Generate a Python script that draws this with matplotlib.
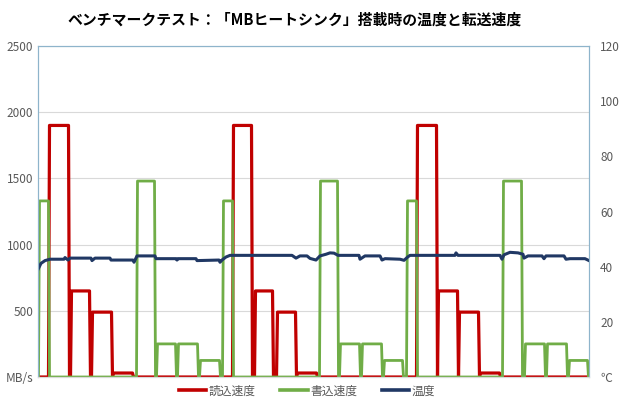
import matplotlib
matplotlib.use("Agg")
import matplotlib.pyplot as plt
from matplotlib.lines import Line2D

plt.rcParams['font.family'] = ['Noto Sans CJK JP', 'DejaVu Sans']

title = "ベンチマークテスト：「MBヒートシンク」搭載時の温度と転送速度"
series_names = ["読込速度", "書込速度", "温度"]

# (start, end, MB/s) plateaus, time in seconds from start of log
read_segs = [
    (11, 31, 1900), (33, 52, 650), (54, 74, 490), (75, 95, 30),
    (195, 214, 1900), (217, 235, 650), (239, 258, 490), (259, 279, 30),
    (379, 399, 1900), (400, 420, 650), (421, 441, 490), (442, 462, 30),
]
write_segs = [
    (1, 11, 1330), (99, 117, 1480), (119, 138, 250), (140, 160, 250), (162, 182, 125),
    (185, 195, 1330), (282, 300, 1480), (302, 322, 250), (324, 344, 250), (346, 365, 125),
    (369, 379, 1330), (465, 484, 1480), (487, 507, 250), (509, 529, 250), (531, 550, 125),
]

temp_t = [0, 3, 7, 10, 12, 26, 27, 30, 32, 53, 54, 57, 72, 73, 95, 96, 99, 117, 118,
          138, 139, 140, 158, 159, 181, 182, 184, 188, 192, 254, 258, 262, 269, 272,
          278, 282, 288, 292, 296, 300, 321, 322, 327, 342, 344, 347, 362, 366, 370,
          372, 417, 418, 420, 462, 464, 466, 472, 480, 485, 486, 490, 504, 506, 508,
          526, 528, 532, 547, 551]
temp_v = [39.0, 41.2, 42.2, 42.5, 42.7, 42.7, 43.3, 42.4, 43.1, 43.1, 42.2, 43.1, 43.1,
          42.4, 42.4, 41.6, 43.9, 43.9, 42.9, 42.9, 42.4, 42.9, 42.9, 42.2, 42.4, 41.6,
          42.4, 43.5, 44.1, 44.1, 43.1, 43.9, 43.9, 43.0, 42.4, 43.9, 44.5, 45.0, 44.9,
          44.1, 44.1, 42.7, 43.9, 43.9, 42.4, 42.9, 42.7, 42.3, 43.6, 44.1, 44.1, 45.0,
          44.1, 44.1, 42.7, 44.3, 45.2, 45.0, 44.5, 43.1, 43.9, 43.9, 42.9, 43.9, 43.9,
          42.7, 42.9, 42.9, 42.2]

speed_ticks = [0, 500, 1000, 1500, 2000, 2500]
speed_labels = ["MB/s", "500", "1000", "1500", "2000", "2500"]
temp_ticks = [0, 20, 40, 60, 80, 100, 120]
temp_labels = ["℃", "20", "40", "60", "80", "100", "120"]
t_end = 551


def steps(segs):
    xs, ys = [0], [0]
    for a, b, v in segs:
        xs += [a - 0.5, a + 0.5, b - 0.5, b + 0.5]
        ys += [0, v, v, 0]
    xs.append(t_end)
    ys.append(0)
    return xs, ys


red = "#C00000"
green = "#70AD47"
navy = "#203864"
gray = "#595959"

fig = plt.figure(figsize=(6.2, 4.05), dpi=100)
ax = fig.add_axes([38 / 620, 1 - 377 / 405, 551 / 620, 331 / 405])
ax2 = ax.twinx()

rx, ry = steps(read_segs)
wx, wy = steps(write_segs)
ax.plot(rx, ry, color=red, lw=2.3)
ax.plot(wx, wy, color=green, lw=2.0)
ax2.plot(temp_t, temp_v, color=navy, lw=2.2)

ax.set_xlim(0, t_end)
ax.set_ylim(0, 2500)
ax2.set_ylim(0, 120)
ax.set_xticks([])
ax.set_yticks(speed_ticks)
ax.set_yticklabels(speed_labels)
ax2.set_yticks(temp_ticks)
ax2.set_yticklabels(temp_labels)
ax.tick_params(axis='y', length=0, pad=3.5, labelsize=8.5, labelcolor=gray)
ax2.tick_params(axis='y', length=0, pad=8, labelsize=8.5, labelcolor=gray)
ax.grid(axis='y', color='#D9D9D9', lw=0.8)
ax.set_axisbelow(True)

for a in (ax, ax2):
    for s in a.spines.values():
        s.set_color('#8EB4CB')
        s.set_linewidth(0.8)
    a.spines['bottom'].set_color('#D9D9D9')

fig.text(295 / 620, 1 - 20 / 405, title, ha='center', va='center',
         fontsize=10.7, fontweight='bold', color='black')

handles = [Line2D([], [], color=c, lw=2.6) for c in (red, green, navy)]
fig.legend(handles, series_names, loc='center', bbox_to_anchor=(0.495, 1 - 391 / 405),
           ncol=3, frameon=False, fontsize=8.5, handlelength=2.3,
           handletextpad=0.2, columnspacing=2.1, labelcolor=gray)

fig.savefig("out.png", dpi=100)
